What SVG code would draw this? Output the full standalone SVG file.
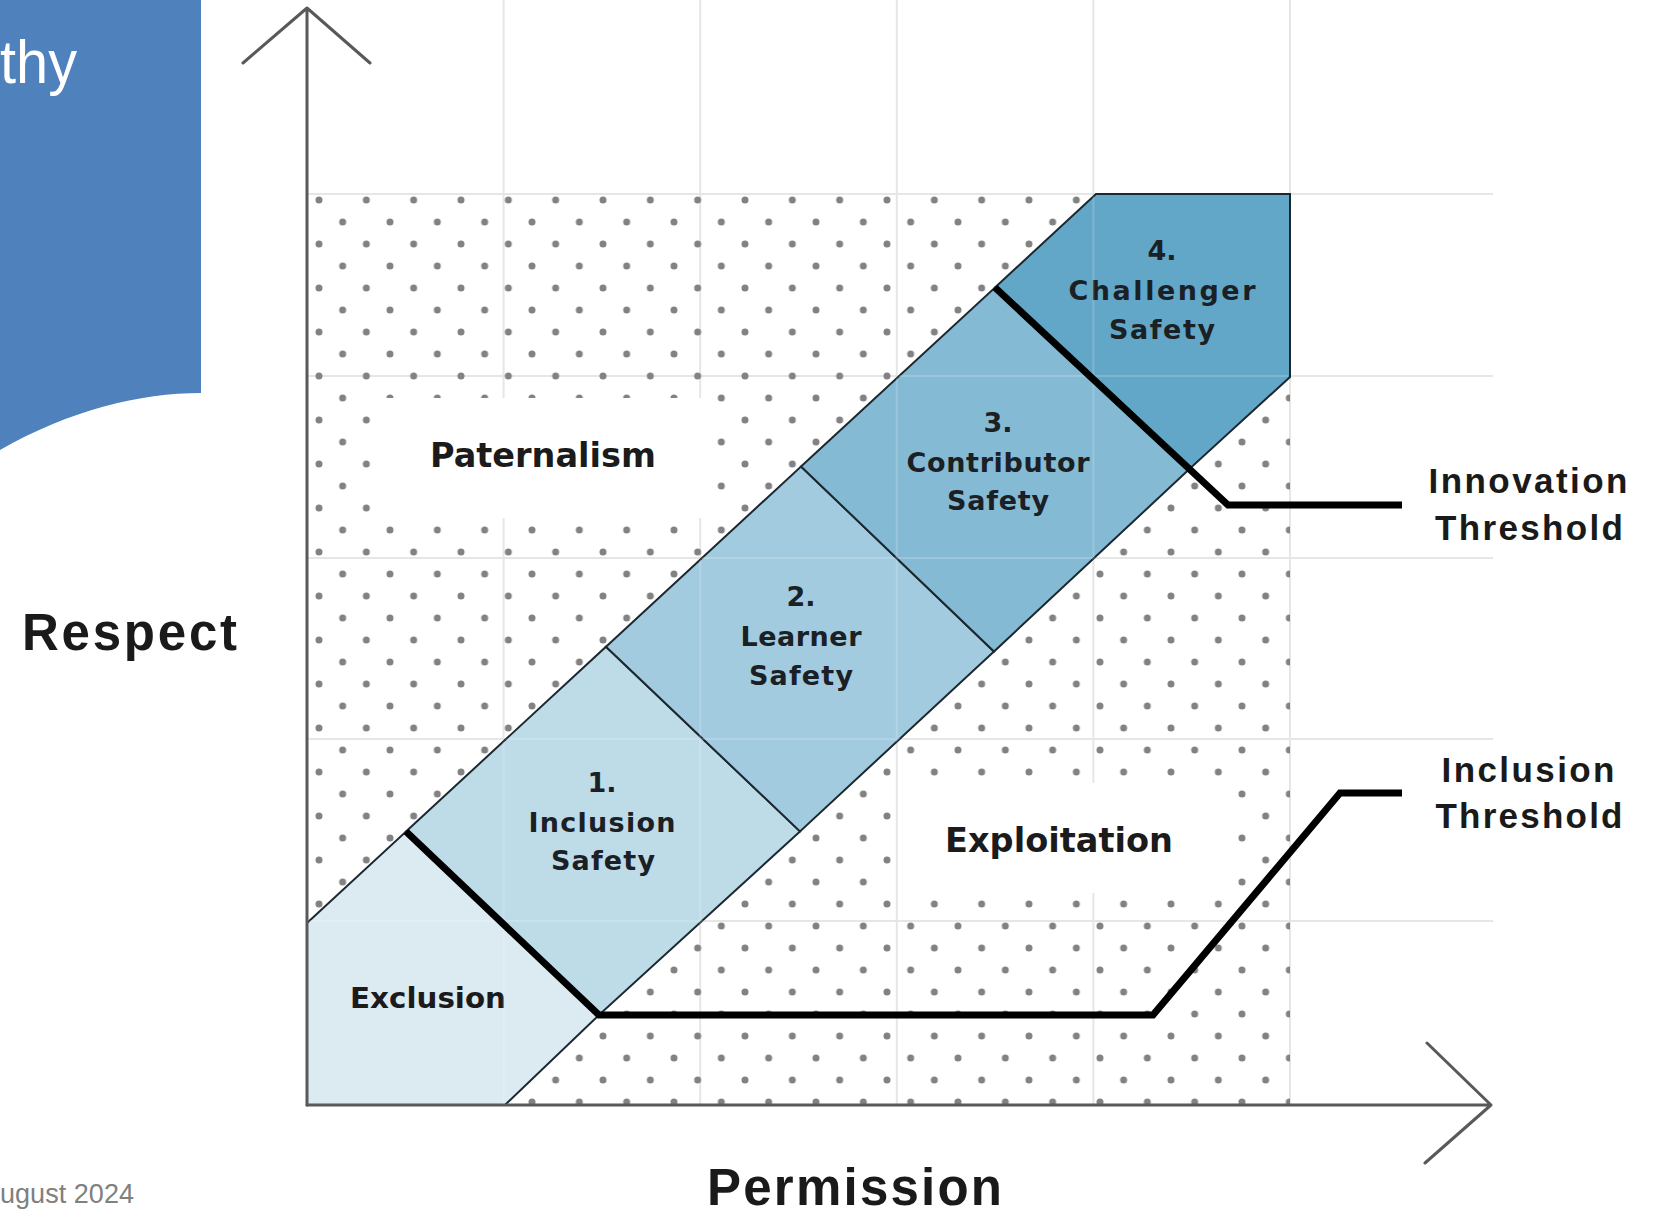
<svg xmlns="http://www.w3.org/2000/svg" width="1658" height="1218" viewBox="0 0 1658 1218">
<defs>
<style>
.grid{stroke:#e6e6e6;stroke-width:2;fill:none}
.gridover{stroke:#ffffff;stroke-opacity:0.18;stroke-width:2;fill:none}
.axis{stroke:#595959;stroke-width:3;fill:none;stroke-linecap:round;stroke-linejoin:round}
.zone{stroke:#1c2830;stroke-width:2;stroke-linejoin:miter}
.thick{stroke:#000;stroke-width:7;fill:none;stroke-linejoin:miter}
.lbl{font-family:"DejaVu Sans",Verdana,sans-serif;font-weight:bold;fill:#1b2024;text-anchor:middle;font-size:27px}
.reg{font-family:"DejaVu Sans",Verdana,sans-serif;font-weight:bold;fill:#1b1b1b}
.ax{font-family:"Liberation Sans",Arial,sans-serif;font-weight:bold;fill:#1a1a1a;font-size:51px}
.thr{font-family:"Liberation Sans",Arial,sans-serif;font-weight:bold;fill:#1a1a1a;font-size:35px;text-anchor:middle}
</style>
<pattern id="dots" x="307.167" y="189" width="47.333" height="44" patternUnits="userSpaceOnUse">
<circle cx="11.833" cy="11" r="3.5" fill="#828282"/>
<circle cx="35.5" cy="33" r="3.5" fill="#828282"/>
</pattern>
<clipPath id="bandclip">
<polygon points="307,923 1096,194 1290,194 1290,377 505,1105 307,1105"/>
</clipPath>
</defs>
<rect width="1658" height="1218" fill="#ffffff"/>

<g id="slide-banner">
<path d="M0,0 H201 V393 C140,393 70,410 0,450 Z" fill="#4f81bd"/>
<text x="77" y="83" text-anchor="end" font-family="Liberation Sans, Arial, sans-serif" font-size="62" fill="#ffffff" textLength="77" lengthAdjust="spacingAndGlyphs">thy</text>
</g>

<g id="grid">
<path class="grid" d="M503.6,0 V1105 M700.2,0 V1105 M896.8,0 V1105 M1093.4,0 V1105 M1290,0 V1105"/>
<path class="grid" d="M307,194 H1493 M307,376 H1493 M307,558 H1493 M307,739 H1493 M307,921 H1493"/>
</g>

<g id="dot-field">
<rect x="307" y="194" width="983" height="911" fill="url(#dots)"/>
</g>

<g id="paternalism">
<rect x="378" y="398" width="332" height="120" fill="#ffffff"/>
<text class="reg" x="430" y="467" font-size="34" textLength="226" lengthAdjust="spacingAndGlyphs">Paternalism</text>
</g>

<g id="exploitation">
<rect x="900" y="783" width="332" height="110" fill="#ffffff"/>
<text class="reg" x="945" y="852" font-size="34" textLength="228" lengthAdjust="spacingAndGlyphs">Exploitation</text>
</g>

<g id="exclusion">
<polygon class="zone" points="307,923 406,831.5 599,1015 505,1105 307,1105" fill="#dceaf2"/>
<text class="reg" x="350" y="1008" font-size="29" textLength="156" lengthAdjust="spacingAndGlyphs">Exclusion</text>
</g>

<g id="inclusion-safety">
<polygon class="zone" points="406,831.5 606,646.7 800,831.4 599,1015" fill="#bedbe8"/>
<text class="lbl" x="602" y="792">1.</text>
<text class="lbl" x="602" y="832" textLength="147">Inclusion</text>
<text class="lbl" x="603" y="870" textLength="104">Safety</text>
</g>

<g id="learner-safety">
<polygon class="zone" points="606,646.7 801,466.5 994,651.5 800,831.4" fill="#a2cbdf"/>
<text class="lbl" x="801" y="606">2.</text>
<text class="lbl" x="801" y="646" textLength="121">Learner</text>
<text class="lbl" x="801" y="685" textLength="104">Safety</text>
</g>

<g id="contributor-safety">
<polygon class="zone" points="801,466.5 995,287.5 1190,468.5 994,651.5" fill="#85bad4"/>
<text class="lbl" x="998" y="432">3.</text>
<text class="lbl" x="998" y="472" textLength="183">Contributor</text>
<text class="lbl" x="998" y="510" textLength="102">Safety</text>
</g>

<g id="challenger-safety">
<polygon class="zone" points="995,287.5 1096,194 1290,194 1290,377 1190,468.5" fill="#62a7c7"/>
<text class="lbl" x="1162" y="260">4.</text>
<text class="lbl" x="1162" y="300" textLength="187">Challenger</text>
<text class="lbl" x="1162" y="339" textLength="106">Safety</text>
</g>

<g id="grid-overlay" clip-path="url(#bandclip)">
<path class="gridover" d="M503.6,194 V1103 M700.2,194 V1103 M896.8,196 V1103 M1093.4,196 V1103 M309,921 H1288 M309,739 H1288 M309,558 H1288 M309,376 H1288"/>
</g>

<g id="connectors">
<path class="axis" d="M307,1105 V8 M243,63 L307,8 L370,63"/>
<path class="axis" d="M307,1105 H1491 M1427,1043 L1491,1105 L1425,1163"/>
<path class="thick" d="M406,831.5 L599,1015 H1153 L1340,793 H1402"/>
<path class="thick" d="M995,287.5 L1228,505 H1402"/>
</g>

<g id="innovation-threshold">
<text class="thr" x="1528" y="493" textLength="199">Innovation</text>
<text class="thr" x="1529" y="540" textLength="188">Threshold</text>
</g>

<g id="inclusion-threshold">
<text class="thr" x="1528" y="782" textLength="173">Inclusion</text>
<text class="thr" x="1529" y="828" textLength="187">Threshold</text>
</g>

<g id="axis-labels">
<text class="ax" x="22" y="650" textLength="215">Respect</text>
<text class="ax" x="707" y="1205" textLength="295">Permission</text>
</g>

<g id="footer">
<text x="0" y="1203" font-family="Liberation Sans, Arial, sans-serif" font-size="27" fill="#808080" textLength="134">ugust 2024</text>
</g>
</svg>
